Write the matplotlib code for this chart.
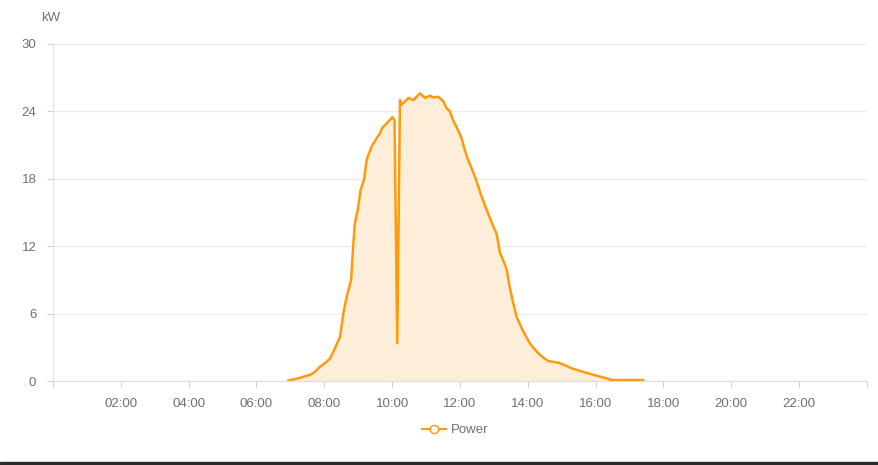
import matplotlib
matplotlib.use('Agg')
import matplotlib.pyplot as plt
from matplotlib.patches import Rectangle

plt.rcParams['font.family'] = ['Liberation Sans', 'DejaVu Sans']

# time of day in hours, power in kW
hours = [6.94, 7.10, 7.25, 7.38, 7.50, 7.63, 7.75, 7.87, 8.02, 8.17, 8.31, 8.46,
         8.56, 8.66, 8.79, 8.85, 8.90, 9.00, 9.07, 9.17, 9.25, 9.32, 9.40, 9.54,
         9.63, 9.72, 9.80, 9.89, 10.01, 10.07, 10.15, 10.23, 10.28, 10.38, 10.48,
         10.62, 10.82, 10.97, 11.11, 11.21, 11.36, 11.51, 11.60, 11.70, 11.80,
         11.90, 12.05, 12.12, 12.20, 12.32, 12.44, 12.54, 12.64, 12.74, 12.83,
         12.95, 13.08, 13.18, 13.28, 13.38, 13.45, 13.55, 13.67, 13.82, 13.94,
         14.06, 14.18, 14.31, 14.45, 14.60, 14.75, 14.90, 15.10, 15.29, 15.65,
         16.03, 16.25, 16.47, 17.40]
power = [0.05, 0.15, 0.25, 0.38, 0.48, 0.62, 0.9, 1.27, 1.6, 2.0, 2.9, 3.9,
         6.0, 7.5, 9.0, 12.0, 14.0, 15.5, 17.0, 17.9, 19.7, 20.3, 20.9, 21.6,
         22.0, 22.6, 22.8, 23.1, 23.5, 23.2, 3.35, 25.0, 24.6, 24.9, 25.2,
         25.0, 25.6, 25.2, 25.4, 25.25, 25.3, 24.9, 24.3, 24.0, 23.2,
         22.6, 21.6, 20.8, 20.0, 19.1, 18.2, 17.3, 16.4, 15.6, 14.9,
         14.0, 13.1, 11.4, 10.7, 9.9, 8.6, 7.2, 5.7, 4.7, 4.0,
         3.35, 2.9, 2.46, 2.1, 1.78, 1.7, 1.63, 1.4, 1.13, 0.8,
         0.47, 0.3, 0.09, 0.09]

x_ticks = list(range(0, 25, 2))
x_labels = ['' if h in (0, 24) else '%02d:00' % h for h in x_ticks]
y_ticks = [0, 6, 12, 18, 24, 30]

LINE = '#ff9a0d'
FILL = '#fdeed9'
GRID = '#ececec'
TEXT = '#707070'

fig = plt.figure(figsize=(8.79, 4.65), dpi=100)
ax = fig.add_axes([0.0603, 0.1806, 0.926, 0.7248])

ax.fill_between(hours, power, 0, color=FILL, linewidth=0)
ax.plot(hours, power, color=LINE, linewidth=1.8, label='Power')

ax.set_xlim(0, 24)
ax.set_ylim(0, 30)
ax.set_xticks(x_ticks)
ax.set_xticklabels(x_labels)
ax.set_yticks(y_ticks)
ax.grid(axis='y', color=GRID, linewidth=1)
ax.set_axisbelow(True)

for s in ['top', 'right']:
    ax.spines[s].set_visible(False)
ax.spines['left'].set_color('#e3e3e3')
ax.spines['bottom'].set_color('#dcdcdc')
ax.tick_params(axis='both', colors='#d0d0d0', labelcolor=TEXT, labelsize=9.5, length=4)
ax.tick_params(axis='x', pad=8)
ax.tick_params(axis='y', pad=8)

fig.text(0.047, 0.962, 'kW', color=TEXT, fontsize=9.5, ha='left', va='center')

# legend item with open circle marker
leg_handle = plt.Line2D([0], [0], color=LINE, linewidth=1.5, marker='o',
                        markerfacecolor='white', markeredgecolor=LINE, markersize=6)
fig.legend([leg_handle], ['Power'], loc='center', bbox_to_anchor=(0.518, 0.075),
           frameon=False, fontsize=9.5, labelcolor=TEXT, handlelength=1.8,
           handletextpad=0.4)

# dark border strip at the bottom of the screenshot
fig.patches.append(Rectangle((0, 0), 1, 0.006, transform=fig.transFigure,
                             color='#2b2b2b', zorder=10))

fig.savefig('out.png', dpi=100)
